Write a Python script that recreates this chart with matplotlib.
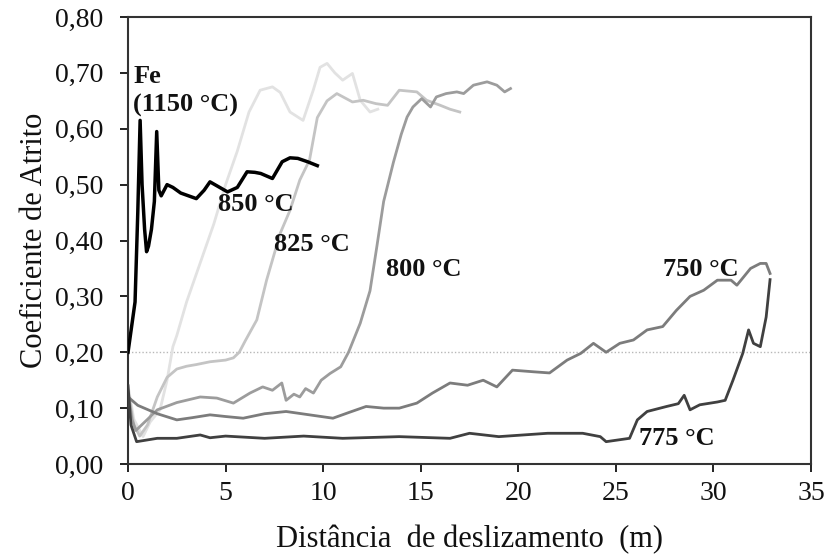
import matplotlib
matplotlib.use("Agg")
import matplotlib.pyplot as plt

# ---------------- data ----------------
fe_x = [0, 0.2, 0.36, 0.5, 0.62, 0.72, 0.85, 0.95, 1.05, 1.2, 1.35, 1.47, 1.58, 1.7, 2.0,
        2.3, 2.7, 3.1, 3.5, 3.9, 4.2, 4.7, 5.1, 5.6, 6.1, 6.5, 6.8, 7.4, 7.9, 8.3, 8.7, 9.2, 9.7]
fe_y = [0.20, 0.25, 0.29, 0.45, 0.615, 0.50, 0.42, 0.38, 0.39, 0.42, 0.47, 0.595, 0.49, 0.48, 0.50,
        0.495, 0.485, 0.48, 0.475, 0.49, 0.505, 0.495, 0.487, 0.495, 0.523, 0.522, 0.52, 0.511,
        0.541, 0.548, 0.547, 0.541, 0.534]

t850_x = [0, 0.3, 0.77, 1.13, 1.64, 2.0, 2.3, 2.5, 3.0, 3.7, 4.4, 5.0, 5.6, 6.2, 6.77, 7.4, 7.8,
          8.3, 8.97, 9.5, 9.84, 10.2, 10.6, 11.0, 11.5, 11.9, 12.4, 12.8]
t850_y = [0.14, 0.08, 0.049, 0.075, 0.097, 0.15, 0.21, 0.23, 0.29, 0.36, 0.43, 0.50, 0.56, 0.63,
          0.669, 0.675, 0.665, 0.63, 0.615, 0.67, 0.71, 0.717, 0.70, 0.687, 0.699, 0.651, 0.63, 0.635]

t825_x = [0, 0.3, 0.6, 1.0, 1.5, 2.0, 2.5, 3.0, 3.5, 4.2, 5.0, 5.4, 5.7, 6.0, 6.6, 7.1, 7.8, 8.3,
          8.8, 9.3, 9.7, 10.2, 10.7, 11.5, 12.05, 12.7, 13.3, 13.9, 14.8, 15.3, 16.0, 16.5, 17.0]
t825_y = [0.13, 0.07, 0.05, 0.07, 0.12, 0.155, 0.17, 0.175, 0.178, 0.183, 0.186, 0.19, 0.20, 0.22,
          0.258, 0.329, 0.413, 0.454, 0.508, 0.544, 0.62, 0.65, 0.663, 0.648, 0.651, 0.645, 0.642,
          0.669, 0.666, 0.651, 0.642, 0.635, 0.63]

t800_x = [0, 0.2, 0.4, 1.0, 1.5, 2.5, 3.7, 4.55, 5.4, 6.25, 6.9, 7.4, 7.88, 8.1, 8.5, 8.8, 9.1, 9.5,
          9.9, 10.35, 10.9, 11.3, 11.9, 12.4, 12.75, 13.1, 13.6, 14.0, 14.3, 14.6, 15.05, 15.5, 15.8,
          16.3, 16.85, 17.2, 17.7, 18.4, 18.9, 19.3, 19.6]
t800_y = [0.13, 0.08, 0.06, 0.08, 0.097, 0.11, 0.12, 0.118, 0.109, 0.127, 0.138, 0.132, 0.145, 0.114,
          0.125, 0.12, 0.135, 0.127, 0.15, 0.162, 0.174, 0.20, 0.252, 0.31, 0.389, 0.47, 0.54, 0.59,
          0.621, 0.639, 0.654, 0.639, 0.657, 0.663, 0.666, 0.663, 0.678, 0.684, 0.678, 0.666, 0.672]

t750_x = [0, 0.5, 1.5, 2.5, 3.3, 4.2, 5.0, 5.9, 7.0, 8.1, 9.3, 10.5, 11.3, 12.2, 13.1, 13.9, 14.8,
          15.6, 16.5, 17.4, 18.2, 18.9, 19.7, 20.8, 21.6, 22.5, 23.2, 23.85, 24.5, 25.2, 25.9, 26.6,
          27.4, 28.1, 28.8, 29.5, 30.2, 30.9, 31.2, 31.9, 32.4, 32.7, 32.9]
t750_y = [0.12, 0.105, 0.09, 0.079, 0.083, 0.088, 0.085, 0.082, 0.09, 0.094, 0.088, 0.082, 0.092,
          0.103, 0.10, 0.10, 0.109, 0.127, 0.145, 0.141, 0.15, 0.138, 0.168, 0.165, 0.163, 0.186,
          0.198, 0.216, 0.20, 0.216, 0.222, 0.24, 0.246, 0.275, 0.30, 0.311, 0.329, 0.329, 0.32,
          0.35, 0.359, 0.359, 0.341]

t775_x = [0, 0.15, 0.44, 1.5, 2.5, 3.3, 3.7, 4.2, 5.0, 7.0, 9.0, 11.0, 13.9, 16.5, 17.5, 19.0, 21.5,
          23.3, 24.2, 24.5, 25.7, 26.1, 26.6, 27.6, 28.2, 28.5, 28.8, 29.3, 30.2, 30.6, 31.0, 31.5,
          31.8, 32.05, 32.4, 32.7, 32.9]
t775_y = [0.14, 0.07, 0.04, 0.046, 0.046, 0.05, 0.052, 0.047, 0.05, 0.046, 0.05, 0.046, 0.049, 0.046,
          0.055, 0.049, 0.055, 0.055, 0.049, 0.04, 0.046, 0.079, 0.094, 0.103, 0.108, 0.123, 0.097,
          0.106, 0.111, 0.114, 0.15, 0.198, 0.24, 0.216, 0.21, 0.263, 0.33]

x_ticks = [0, 5, 10, 15, 20, 25, 30, 35]
y_ticks = [0.0, 0.1, 0.2, 0.3, 0.4, 0.5, 0.6, 0.7, 0.8]
y_tick_labels = ["0,00", "0,10", "0,20", "0,30", "0,40", "0,50", "0,60", "0,70", "0,80"]
ref_line = 0.20

labels = [("Fe\n(1150 °C)", 0.26, 0.668),
          ("850 °C", 4.6, 0.465),
          ("825 °C", 7.5, 0.393),
          ("800 °C", 13.2, 0.348),
          ("750 °C", 27.4, 0.348),
          ("775 °C", 26.2, 0.046)]

# ---------------- figure ----------------
plt.rcParams['font.family'] = ['Liberation Serif', 'DejaVu Serif']
fig = plt.figure(figsize=(8.27, 5.6), dpi=100)
ax = fig.add_axes([0.1548, 0.1714, 0.8259, 0.7982])

ax.axhline(ref_line, color="#b8b8b8", lw=1.0, ls=(0, (1, 1.5)), zorder=1)

ax.plot(t850_x, t850_y, color="#e2e2e2", lw=2.0, zorder=2)
ax.plot(t825_x, t825_y, color="#c4c4c4", lw=2.0, zorder=3)
ax.plot(t800_x, t800_y, color="#9c9c9c", lw=2.0, zorder=4)
ax.plot(t750_x, t750_y, color="#7c7c7c", lw=2.0, zorder=5)
ax.plot(t775_x, t775_y, color="#404040", lw=2.0, zorder=6)
ax.plot(fe_x, fe_y, color="#000000", lw=2.5, zorder=7)

for txt, x, y in labels:
    ax.text(x, y, txt, fontsize=19, fontweight="bold", ha="left", va="center",
            color="#111111", linespacing=1.3, zorder=8)

ax.set_xlim(0, 35)
ax.set_ylim(0, 0.8)
ax.set_xticks(x_ticks)
ax.set_xticklabels([str(v) for v in x_ticks])
ax.set_yticks(y_ticks)
ax.set_yticklabels(y_tick_labels)
ax.tick_params(axis="both", direction="out", length=6, width=1.3, labelsize=20, colors="#111111")
ax.tick_params(axis="y", pad=12)
ax.tick_params(axis="x", pad=6)
for s in ax.spines.values():
    s.set_linewidth(1.5)
    s.set_color("#333333")

ax.set_xlabel("Distância  de deslizamento  (m)", fontsize=22, labelpad=14, color="#111111")
ax.set_ylabel("Coeficiente de Atrito", fontsize=22, labelpad=4, color="#111111")

fig.savefig("out.png", dpi=100)
